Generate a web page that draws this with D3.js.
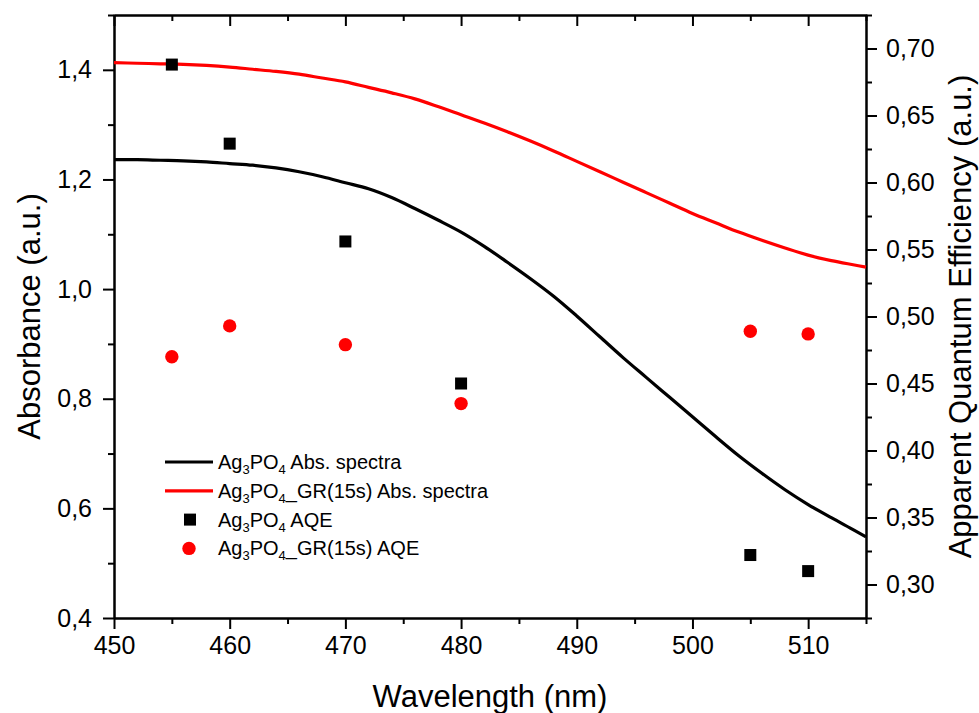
<!DOCTYPE html>
<html>
<head>
<meta charset="utf-8">
<script src="https://cdn.jsdelivr.net/npm/d3@7/dist/d3.min.js"></script>
<style>
  html, body { margin: 0; padding: 0; background: #fff; }
  svg { display: block; font-family: "Liberation Sans", Arial, sans-serif; }
</style>
</head>
<body>
<svg id="chart" width="979" height="713"></svg>
<script>
// Absorption spectra (left axis, a.u.)
const wavelengths = [450, 452, 454, 456, 458, 460, 462, 464, 466, 468, 470, 472, 474, 476, 478, 480, 482, 484, 486, 488, 490, 492, 494, 496, 498, 500, 502, 504, 506, 508, 510, 512, 514, 515];
const absAg3PO4 = [1.236, 1.236, 1.235, 1.234, 1.232, 1.229, 1.226, 1.221, 1.214, 1.205, 1.194, 1.183, 1.167, 1.147, 1.126, 1.104, 1.078, 1.049, 1.019, 0.987, 0.951, 0.913, 0.875, 0.839, 0.803, 0.767, 0.731, 0.696, 0.664, 0.634, 0.607, 0.583, 0.560, 0.548];
const absAg3PO4GR = [1.413, 1.412, 1.411, 1.410, 1.408, 1.405, 1.401, 1.397, 1.392, 1.385, 1.378, 1.368, 1.358, 1.347, 1.333, 1.318, 1.303, 1.287, 1.270, 1.252, 1.233, 1.214, 1.195, 1.176, 1.157, 1.138, 1.121, 1.104, 1.089, 1.075, 1.062, 1.052, 1.044, 1.040];

// Apparent quantum efficiency (right axis, a.u.)
const aqeWavelengths = [455, 460, 470, 480, 505, 510];
const aqeAg3PO4 = [0.688, 0.629, 0.556, 0.450, 0.322, 0.310];
const aqeAg3PO4GR = [0.470, 0.493, 0.479, 0.435, 0.489, 0.487];

// Tick values
const xMajorTicks = [450, 460, 470, 480, 490, 500, 510];
const xMinorTicks = [455, 465, 475, 485, 495, 505, 515];
const leftMajorTicks = [0.4, 0.6, 0.8, 1.0, 1.2, 1.4];
const leftMinorTicks = [0.5, 0.7, 0.9, 1.1, 1.3, 1.5];
const rightMajorTicks = [0.30, 0.35, 0.40, 0.45, 0.50, 0.55, 0.60, 0.65, 0.70];
const rightMinorTicks = [0.275, 0.325, 0.375, 0.425, 0.475, 0.525, 0.575, 0.625, 0.675, 0.725];

const svg = d3.select("#chart");
const W = 979, H = 713;
const margin = { left: 114, right: W - 866, top: 15, bottom: H - 618 };
const x0 = margin.left, x1 = W - margin.right, y0 = margin.top, y1 = H - margin.bottom;

const x = d3.scaleLinear().domain([450, 515]).range([x0, x1]);
const yL = d3.scaleLinear().domain([0.4, 1.5]).range([y1, y0]);
const yR = d3.scaleLinear().domain([0.275, 0.725]).range([y1, y0]);

const comma = f => v => d3.format(f)(v).replace(".", ",");
const MAJ = 11, MIN = 6;

function styleAxis(g) {
  g.select(".domain").attr("stroke", "#000").attr("stroke-width", 2);
  g.selectAll(".tick line").attr("stroke", "#000").attr("stroke-width", 2);
  g.selectAll(".tick text").attr("fill", "#000").attr("font-size", 25)
    .attr("font-family", "Liberation Sans, Arial, sans-serif");
}

// Bottom axis
const gB = svg.append("g").attr("transform", `translate(0,${y1})`)
  .call(d3.axisBottom(x).tickValues(xMajorTicks).tickSize(MAJ).tickSizeOuter(0).tickPadding(7).tickFormat(d3.format("d")));
styleAxis(gB);
gB.selectAll(".tick text").attr("dy", "0.71em");
const gBm = svg.append("g").attr("transform", `translate(0,${y1})`)
  .call(d3.axisBottom(x).tickValues(xMinorTicks).tickSize(MIN).tickSizeOuter(0).tickFormat(""));
styleAxis(gBm);

// Top axis (ticks pointing inward)
const gT = svg.append("g").attr("transform", `translate(0,${y0})`)
  .call(d3.axisBottom(x).tickValues(xMajorTicks).tickSize(MAJ).tickSizeOuter(0).tickFormat(""));
styleAxis(gT);
const gTm = svg.append("g").attr("transform", `translate(0,${y0})`)
  .call(d3.axisBottom(x).tickValues(xMinorTicks).tickSize(MIN).tickSizeOuter(0).tickFormat(""));
styleAxis(gTm);
gTm.select(".domain").attr("stroke-linecap", "square");

// Left axis
const gL = svg.append("g").attr("transform", `translate(${x0},0)`)
  .call(d3.axisLeft(yL).tickValues(leftMajorTicks).tickSize(MAJ).tickSizeOuter(0).tickPadding(11).tickFormat(comma(".1f")));
styleAxis(gL);
const gLm = svg.append("g").attr("transform", `translate(${x0},0)`)
  .call(d3.axisLeft(yL).tickValues(leftMinorTicks).tickSize(MIN).tickSizeOuter(0).tickFormat(""));
styleAxis(gLm);

// Right axis
const gR = svg.append("g").attr("transform", `translate(${x1},0)`)
  .call(d3.axisRight(yR).tickValues(rightMajorTicks).tickSize(MAJ).tickSizeOuter(0).tickPadding(9).tickFormat(comma(".2f")));
styleAxis(gR);
const gRm = svg.append("g").attr("transform", `translate(${x1},0)`)
  .call(d3.axisRight(yR).tickValues(rightMinorTicks).tickSize(MIN).tickSizeOuter(0).tickFormat(""));
styleAxis(gRm);

// Absorption curves
const absLine = series => d3.line()
  .x((d, i) => x(wavelengths[i]))
  .y(d => yL(d))
  .curve(d3.curveCatmullRom.alpha(0.5))(series);

const plot = svg.append("g");
plot.append("path").attr("d", absLine(absAg3PO4GR))
  .attr("fill", "none").attr("stroke", "#ff0000").attr("stroke-width", 3.2);
plot.append("path").attr("d", absLine(absAg3PO4))
  .attr("fill", "none").attr("stroke", "#000").attr("stroke-width", 3.2);

// AQE markers
const SQ = 12, R = 6.7;
plot.selectAll("rect.aqe").data(aqeAg3PO4).join("rect").attr("class", "aqe")
  .attr("x", (d, i) => x(aqeWavelengths[i]) - SQ / 2)
  .attr("y", d => yR(d) - SQ / 2)
  .attr("width", SQ).attr("height", SQ).attr("fill", "#000");
plot.selectAll("circle.aqe").data(aqeAg3PO4GR).join("circle").attr("class", "aqe")
  .attr("cx", (d, i) => x(aqeWavelengths[i]))
  .attr("cy", d => yR(d))
  .attr("r", R).attr("fill", "#ff0000");

// Axis titles
svg.append("text").attr("x", (x0 + x1) / 2).attr("y", 707)
  .attr("text-anchor", "middle").attr("font-size", 31).attr("fill", "#000")
  .text("Wavelength (nm)");
svg.append("text").attr("transform", `translate(40,${(y0 + y1) / 2}) rotate(-90)`)
  .attr("text-anchor", "middle").attr("font-size", 31).attr("fill", "#000")
  .text("Absorbance (a.u.)");
svg.append("text").attr("transform", `translate(971,${(y0 + y1) / 2}) rotate(-90)`)
  .attr("text-anchor", "middle").attr("font-size", 31).attr("fill", "#000")
  .text("Apparent Quantum Efficiency (a.u.)");

// Legend
const legendItems = [
  { kind: "line", color: "#000", parts: ["Ag", "3", "PO", "4", " Abs. spectra"] },
  { kind: "line", color: "#ff0000", parts: ["Ag", "3", "PO", "4", "_GR(15s) Abs. spectra"] },
  { kind: "square", color: "#000", parts: ["Ag", "3", "PO", "4", " AQE"] },
  { kind: "circle", color: "#ff0000", parts: ["Ag", "3", "PO", "4", "_GR(15s) AQE"] }
];
const legend = svg.append("g").attr("transform", "translate(165,462)");
legendItems.forEach((item, i) => {
  const g = legend.append("g").attr("transform", `translate(0,${i * 28.8})`);
  if (item.kind === "line") {
    g.append("line").attr("x1", 0).attr("x2", 48).attr("y1", 0).attr("y2", 0)
      .attr("stroke", item.color).attr("stroke-width", 3.2);
  } else if (item.kind === "square") {
    g.append("rect").attr("x", 25 - SQ / 2).attr("y", -SQ / 2).attr("width", SQ).attr("height", SQ).attr("fill", item.color);
  } else {
    g.append("circle").attr("cx", 24).attr("cy", 0).attr("r", R).attr("fill", item.color);
  }
  // chemical formula with subscripted atom counts
  const t = g.append("text").attr("x", 53).attr("y", 7).attr("font-size", 20).attr("fill", "#000");
  item.parts.forEach((p, j) => {
    const sub = j % 2 === 1 && j < 4;
    t.append("tspan").text(p)
      .attr("font-size", sub ? 13 : 20)
      .attr("dy", sub ? 5 : (j > 0 ? -5 : 0));
  });
});
</script>
</body>
</html>
